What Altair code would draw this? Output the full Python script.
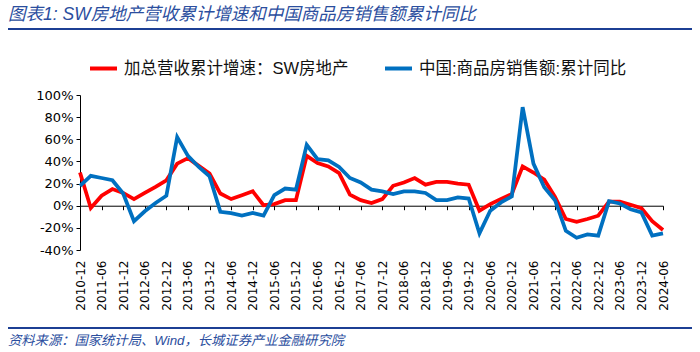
import altair as alt
import pandas as pd

quarters = [
    "2010-12",
    "2011-03", "2011-06", "2011-09", "2011-12",
    "2012-03", "2012-06", "2012-09", "2012-12",
    "2013-03", "2013-06", "2013-09", "2013-12",
    "2014-03", "2014-06", "2014-09", "2014-12",
    "2015-03", "2015-06", "2015-09", "2015-12",
    "2016-03", "2016-06", "2016-09", "2016-12",
    "2017-03", "2017-06", "2017-09", "2017-12",
    "2018-03", "2018-06", "2018-09", "2018-12",
    "2019-03", "2019-06", "2019-09", "2019-12",
    "2020-03", "2020-06", "2020-09", "2020-12",
    "2021-03", "2021-06", "2021-09", "2021-12",
    "2022-03", "2022-06", "2022-09", "2022-12",
    "2023-03", "2023-06", "2023-09", "2023-12",
    "2024-03", "2024-06",
]

tick_labels = [
    "2010-12", "2011-06", "2011-12", "2012-06", "2012-12", "2013-06", "2013-12",
    "2014-06", "2014-12", "2015-06", "2015-12", "2016-06", "2016-12", "2017-06",
    "2017-12", "2018-06", "2018-12", "2019-06", "2019-12", "2020-06", "2020-12",
    "2021-06", "2021-12", "2022-06", "2022-12", "2023-06", "2023-12", "2024-06",
]

# 加总营收累计增速：SW房地产 (%)
sw_revenue = [
    30, -2, 9, 15, 11.5, 6, 11.5, 17, 23, 38,
    43, 36, 29, 11, 6, 9.5, 13, 0.5, 1.5, 5,
    5, 45, 38.5, 35.5, 29.5, 10, 5, 2.5, 6, 18,
    21, 25, 19, 21.5, 21.5, 20, 19, -4.5, 1.5, 6,
    10.6, 35.5, 30, 23.5, 8, -12, -14.5, -12, -9, 3.8,
    3.8, 0.8, -2.2, -14, -22,
]

# 中国:商品房销售额:累计同比 (%)
cn_sales = [
    18, 27, 25, 23, 11, -14, -5, 2.5, 9, 62,
    45, 35, 26.5, -5.5, -6.7, -9, -6.5, -9, 9.5, 15.5,
    14.5, 55, 42, 41, 35, 25, 21, 14.5, 13, 10.6,
    13, 13, 11.5, 5, 5, 7.5, 6.5, -25, -4.5, 3,
    8.5, 89, 38, 16.7, 5, -22.7, -29, -26, -27, 4,
    2, -3.3, -6, -27, -25,
]

y_ticks = [-40, -20, 0, 20, 40, 60, 80, 100]
series_names = ["加总营收累计增速：SW房地产", "中国:商品房销售额:累计同比"]
series_colors = ["#FF0000", "#0070C0"]
title_text = "图表1: SW房地产营收累计增速和中国商品房销售额累计同比"
source_text = "资料来源：国家统计局、Wind，长城证券产业金融研究院"

W, H = 583, 155
CJK = "'Liberation Sans', 'Noto Sans CJK SC'"
NUM = "DejaVu Sans"
BLUE_TXT = "#2B4E9E"
BLUE_LINE = "#1C3F94"

df = pd.DataFrame({"q": quarters, series_names[0]: sw_revenue, series_names[1]: cn_sales})
long = df.melt("q", var_name="series", value_name="v")

base = alt.Chart(long)

y_enc = alt.Y(
    "v:Q",
    scale=alt.Scale(domain=[-40, 100], nice=False, zero=False),
    axis=alt.Axis(
        values=y_ticks, labelExpr="datum.value + '%'", title=None, grid=False,
        domainColor="black", domainWidth=1, tickColor="black", tickSize=4,
        labelFont=NUM, labelFontSize=13, labelColor="black", labelPadding=3,
    ),
)

color_enc = alt.Color(
    "series:N",
    scale=alt.Scale(domain=series_names, range=series_colors),
    legend=alt.Legend(
        title=None, orient="none", legendX=8, legendY=-42, direction="horizontal",
        symbolType="stroke", symbolSize=729, symbolStrokeWidth=4,
        labelFont=CJK, labelFontSize=16.5, labelColor="#111111", labelLimit=0,
        labelOffset=5, columnPadding=28,
    ),
)

x_zero = alt.X(
    "q:O", sort=quarters, scale=alt.Scale(type="point", padding=0),
    axis=alt.Axis(
        orient="bottom",
        values=tick_labels, labels=False, ticks=True, tickSize=4, tickColor="black",
        domain=True, domainColor="black", domainWidth=1, offset=-44.29,
        title=None, grid=False,
    ),
)

x_labels = alt.X(
    "q:O", sort=quarters, scale=alt.Scale(type="point", padding=0),
    axis=alt.Axis(
        orient="bottom",
        values=tick_labels, labelAngle=-90, domain=False, ticks=False,
        labelFont=NUM, labelFontSize=12, labelColor="black", labelPadding=10,
        title=None, grid=False,
    ),
)

red = base.transform_filter(alt.datum.series == series_names[0]).mark_line(
    strokeWidth=3.75
).encode(x=x_zero, y=y_enc, color=color_enc)

blue = base.transform_filter(alt.datum.series == series_names[1]).mark_line(
    strokeWidth=3.75
).encode(x=x_labels, y=y_enc, color=color_enc)

one = pd.DataFrame({"t": [title_text], "s": [source_text]})

title_layer = alt.Chart(one).mark_text(
    font=CJK, fontSize=17.5, fontStyle="italic", color=BLUE_TXT, align="left", baseline="middle"
).encode(text="t:N", x=alt.value(-72), y=alt.value(-80))

head_rule = alt.Chart(one).mark_rule(color=BLUE_LINE, strokeWidth=2).encode(
    x=alt.value(-72), x2=alt.value(612), y=alt.value(-66)
)

foot_rule = alt.Chart(one).mark_rule(color=BLUE_LINE, strokeWidth=2).encode(
    x=alt.value(-72), x2=alt.value(612), y=alt.value(233)
)

source_layer = alt.Chart(one).mark_text(
    font=CJK, fontSize=13.3, fontStyle="italic", color=BLUE_TXT, align="left", baseline="middle"
).encode(text="s:N", x=alt.value(-72), y=alt.value(246))

chart = alt.layer(red, blue, title_layer, head_rule, foot_rule, source_layer).resolve_axis(
    x="independent"
).properties(
    width=W, height=H,
    autosize=alt.AutoSizeParams(type="none"),
    padding={"left": 80, "top": 95, "right": 37, "bottom": 102},
    background="white",
).configure_view(stroke=None)

chart.save("out.html", embed_options={"renderer": "svg", "actions": False})
